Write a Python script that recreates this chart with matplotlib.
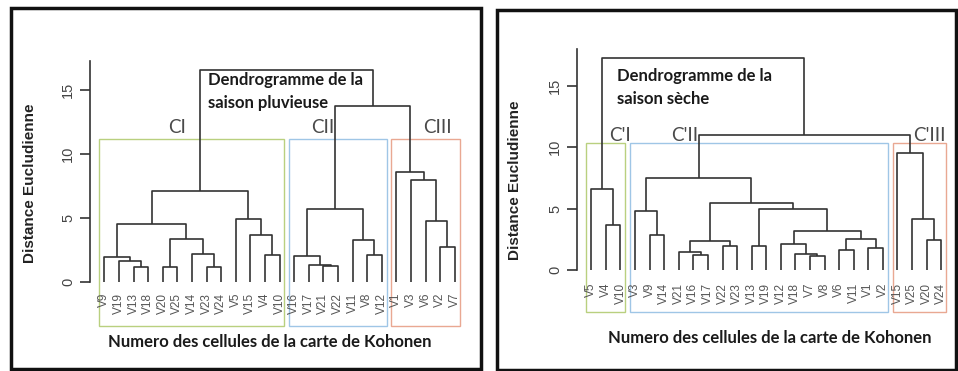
import matplotlib
matplotlib.use("Agg")
import matplotlib.pyplot as plt
from matplotlib.patches import Rectangle

# leaf order as drawn, and merges: (left, right) where a str is a leaf and an int is an earlier merge
rain_leaves = ["V9", "V19", "V13", "V18", "V20", "V25", "V14", "V23", "V24", "V5", "V15", "V4", "V10",
               "V16", "V17", "V21", "V22", "V11", "V8", "V12", "V1", "V3", "V6", "V2", "V7"]
rain_merges = [("V13", "V18"), ("V19", 0), ("V9", 1), ("V20", "V25"), ("V23", "V24"), ("V14", 4),
               (3, 5), (2, 6), ("V4", "V10"), ("V15", 8), ("V5", 9), (7, 10),
               ("V21", "V22"), ("V17", 12), ("V16", 13), ("V8", "V12"), ("V11", 15), (14, 16),
               ("V2", "V7"), ("V6", 18), ("V3", 19), ("V1", 20), (17, 21), (11, 22)]
rain_heights = [1.15, 1.62, 1.92, 1.15, 1.15, 2.22, 3.35, 4.5, 2.1, 3.65, 4.9, 7.08,
                1.27, 1.35, 2.04, 2.08, 3.3, 5.69, 2.76, 4.73, 8.0, 8.6, 13.75, 16.6]
rain_groups = ["CI", "CII", "CIII"]
rain_group_sizes = [13, 7, 5]

dry_leaves = ["V5", "V4", "V10", "V3", "V9", "V14", "V21", "V16", "V17", "V22", "V23", "V13", "V19",
              "V12", "V18", "V7", "V8", "V6", "V11", "V1", "V2", "V15", "V25", "V20", "V24"]
dry_merges = [("V4", "V10"), ("V5", 0), ("V9", "V14"), ("V3", 2), ("V16", "V17"), ("V21", 4),
              ("V22", "V23"), (5, 6), ("V13", "V19"), ("V7", "V8"), ("V18", 9), ("V12", 10),
              ("V6", "V11"), ("V1", "V2"), (12, 13), (11, 14), (8, 15), (7, 16), (3, 17),
              ("V20", "V24"), ("V25", 19), ("V15", 20), (18, 21), (1, 22)]
dry_heights = [3.7, 6.6, 2.85, 4.8, 1.25, 1.5, 1.96, 2.38, 1.96, 1.15, 1.28, 2.1,
               1.65, 1.8, 2.5, 3.15, 4.95, 5.45, 7.52, 2.45, 4.16, 9.5, 11.0, 17.25]
dry_groups = ["C'I", "C'II", "C'III"]
dry_group_sizes = [3, 18, 4]

box_colors = ["#b9d07f", "#9fc6e6", "#e9a892"]
LINE = "#333333"


def draw_tree(ax, leaves, merges, heights):
    pos = {lab: i + 1 for i, lab in enumerate(leaves)}
    node = []  # (x, h) of every merge
    def get(c):
        return node[c] if isinstance(c, int) else (pos[c], 0.0)
    for (a, b), h in zip(merges, heights):
        (xa, ha), (xb, hb) = get(a), get(b)
        ax.plot([xa, xa, xb, xb], [ha, h, h, hb], color=LINE, lw=1.2, solid_capstyle="butt")
        node.append(((xa + xb) / 2, h))
    return node


def setup_panel(ax, leaves, ytop, label_y):
    ax.set_xlim(0.04, 25.96)
    ax.set_ylim(-4, 18)
    for s in ("top", "right", "bottom"):
        ax.spines[s].set_visible(False)
    ax.spines["left"].set_bounds(0, ytop)
    ax.spines["left"].set_color(LINE)
    ax.spines["left"].set_linewidth(1.2)
    ax.set_xticks([])
    ax.set_yticks([0, 5, 10, 15])
    ax.set_yticklabels(["0", "5", "10", "15"], rotation=90, va="center",
                       fontsize=10.5, color="#444444", family="Liberation Sans")
    ax.tick_params(axis="y", length=7, width=1.2, color=LINE, pad=4)
    ax.patch.set_visible(False)
    for i, lab in enumerate(leaves):
        ax.text(i + 1, label_y, lab, rotation=90, ha="center", va="top",
                fontsize=8.5, color="#555555", family="Liberation Sans")


def group_boxes(ax, sizes, names, box_top, name_x, name_y):
    start = 1
    for n, name, col, nx in zip(sizes, names, box_colors, name_x):
        end = start + n - 1
        ax.add_patch(Rectangle((start - 0.34, -3.4), end - start + 0.67, box_top + 3.4,
                               fill=False, edgecolor=col, lw=1.0))
        ax.text(nx, name_y, name, ha="center", va="center", fontsize=13.5,
                color="#4a4a4a", family="Lato")
        start = end + 1


W, H = 958, 371
fig = plt.figure(figsize=(W / 100, H / 100), dpi=100)


def axes_px(x1px, dx, y0px, dy):
    # place axes so leaf 1 sits at x1px, height 0 at y0px (pixels from top-left)
    left = x1px - 0.96 * dx
    right = x1px + 24.96 * dx
    top = y0px - 18 * dy
    bottom = y0px + 4 * dy
    return fig.add_axes([left / W, 1 - bottom / H, (right - left) / W, (bottom - top) / H])


ax1 = axes_px(104.3, 14.6, 282, 12.8)
ax2 = axes_px(591.3, 14.58, 270, 12.27)

setup_panel(ax1, rain_leaves, 17.3, -0.85)
draw_tree(ax1, rain_leaves, rain_merges, rain_heights)
group_boxes(ax1, rain_group_sizes, rain_groups, 11.15, [5.98, 15.98, 23.8], 12.1)
ax1.text(8.1, 14.9, "Dendrogramme de la\nsaison pluvieuse", ha="left", va="center",
         fontsize=12, fontweight="bold", family="Lato", color="#1a1a1a", linespacing=1.5)

setup_panel(ax2, dry_leaves, 18.0, -1.05)
draw_tree(ax2, dry_leaves, dry_merges, dry_heights)
group_boxes(ax2, dry_group_sizes, dry_groups, 10.37, [2.95, 7.4, 24.2], 11.0)
ax2.text(2.78, 14.87, "Dendrogramme de la\nsaison sèche", ha="left", va="center",
         fontsize=12, fontweight="bold", family="Lato", color="#1a1a1a", linespacing=1.5)

# axis titles
for cx, cy in [(30, 183), (514.7, 180)]:
    fig.text(cx / W, 1 - cy / H, "Distance Eucludienne", rotation=90, ha="center", va="center",
             fontsize=11, fontweight="bold", family="Liberation Sans", color="#222222")
for cx, cy in [(270, 341.7), (770, 338)]:
    fig.text(cx / W, 1 - cy / H, "Numero des cellules de la carte de Kohonen", ha="center",
             va="center", fontsize=12, fontweight="bold", family="Lato", color="#1a1a1a")

# panel frames
for x0, y0, x1, y1 in [(11, 8, 481, 369), (497, 10, 956, 370)]:
    fig.add_artist(Rectangle((x0 / W, 1 - y1 / H), (x1 - x0) / W, (y1 - y0) / H,
                             transform=fig.transFigure, fill=False, edgecolor="#111111", lw=2.5))

fig.savefig("out.png", dpi=100)
